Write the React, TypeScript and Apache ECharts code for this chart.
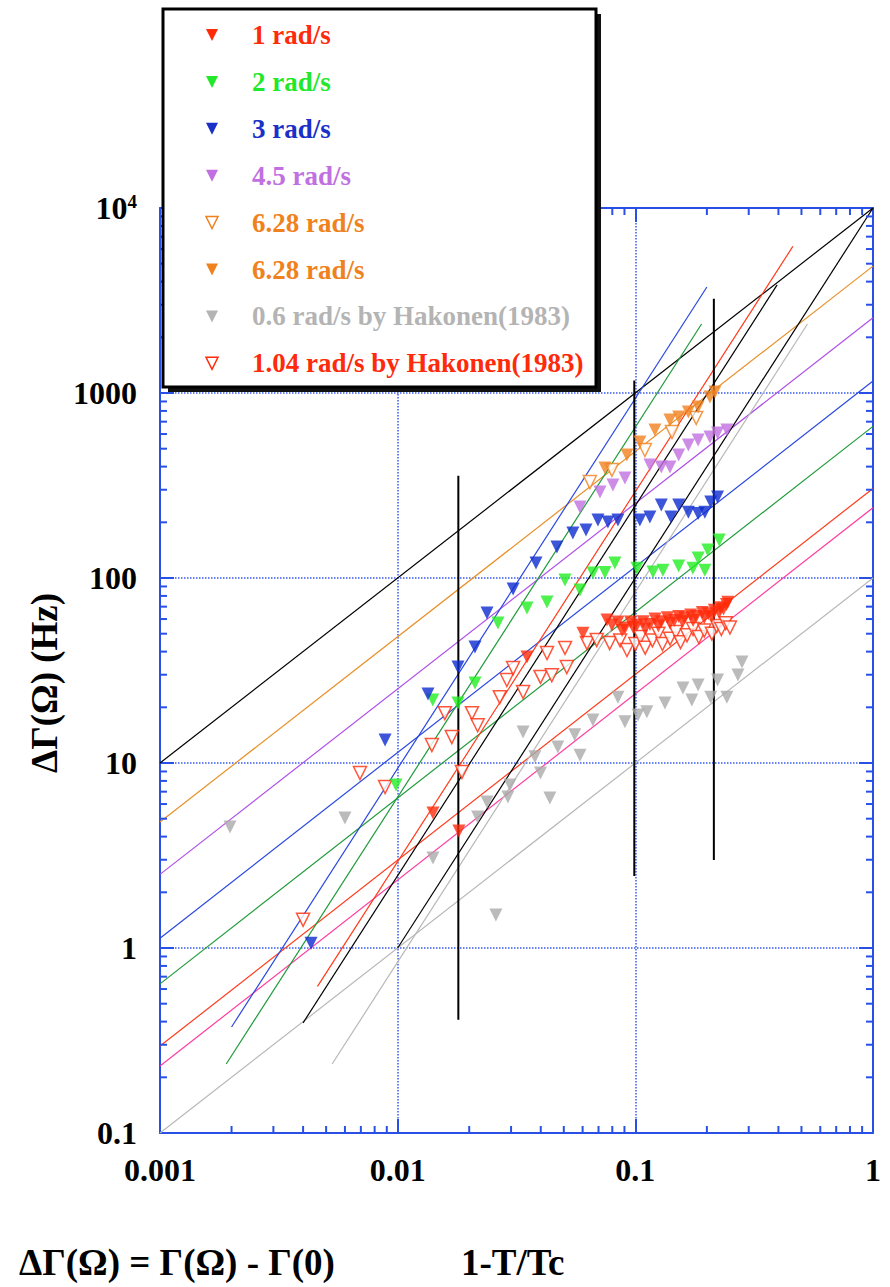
import React, { useEffect, useRef } from "react";
import * as echarts from "echarts";

const FONT = "'Liberation Serif', 'Times New Roman', serif";
const AXIS = "#2850e6";
const GRIDC = "#3a5cf0";

const X_MIN = 0.001;
const X_MAX = 1;
const Y_MIN = 0.1;
const Y_MAX = 10000;

const xTickValues = [0.001, 0.01, 0.1, 1];
const xTickLabels = ["0.001", "0.01", "0.1", "1"];
const yTickValues = [0.1, 1, 10, 100, 1000, 10000];
const yTickLabels = ["0.1", "1", "10", "100", "1000", "{b|10}{s|4}"];

const xMinorTicks = [
  0.002, 0.003, 0.004, 0.005, 0.006, 0.007, 0.008, 0.009,
  0.02, 0.03, 0.04, 0.05, 0.06, 0.07, 0.08, 0.09,
  0.2, 0.3, 0.4, 0.5, 0.6, 0.7, 0.8, 0.9,
];
const yMinorTicks = [
  0.2, 0.3, 0.4, 0.5, 0.6, 0.7, 0.8, 0.9,
  2, 3, 4, 5, 6, 7, 8, 9,
  20, 30, 40, 50, 60, 70, 80, 90,
  200, 300, 400, 500, 600, 700, 800, 900,
  2000, 3000, 4000, 5000, 6000, 7000, 8000, 9000,
];

// ---- data points (1-T/Tc, ΔΓ in Hz) ----
const red1 = [
  [0.01408, 5.37], [0.0181, 4.29], [0.035, 37.4], [0.0602, 50.3], [0.076, 59.3],
  [0.0797, 55.7], [0.0845, 57.8], [0.088, 52], [0.0904, 53.7], [0.0954, 57.8],
  [0.098, 54], [0.1016, 55.7], [0.1079, 58], [0.11, 53], [0.1152, 56],
  [0.1209, 60], [0.125, 55], [0.1286, 58], [0.1364, 61], [0.14, 57],
  [0.1459, 59], [0.1522, 62], [0.158, 58], [0.1613, 61], [0.171, 63],
  [0.175, 59], [0.1803, 62], [0.1913, 65], [0.195, 61], [0.2028, 64],
  [0.21, 62], [0.2151, 67], [0.225, 65], [0.2281, 69], [0.235, 68],
  [0.2418, 72], [0.245, 74],
];
const green2 = [
  [0.00984, 7.6], [0.01405, 21.9], [0.01794, 21.1], [0.02115, 27.1], [0.02642, 57.1],
  [0.035, 68.9], [0.0425, 74.2], [0.0506, 97.5], [0.0585, 86.1], [0.0663, 106.4],
  [0.0745, 107], [0.082, 120.5], [0.1016, 113], [0.1187, 107.7], [0.1307, 110],
  [0.1522, 116], [0.1746, 113], [0.1837, 128.3], [0.1962, 110], [0.2018, 141.7],
  [0.2253, 160.4],
];
const blue3 = [
  [0.00432, 1.06], [0.00885, 13.3], [0.01342, 23.6], [0.01794, 33], [0.02115, 42.4],
  [0.02376, 64.7], [0.0306, 87.2], [0.0382, 120.5], [0.0468, 147], [0.0546, 175],
  [0.062, 182], [0.0696, 206], [0.0767, 201], [0.0845, 206], [0.1045, 206],
  [0.1151, 213.6], [0.1286, 248], [0.1412, 213.6], [0.1522, 248], [0.1672, 227],
  [0.1837, 223], [0.1962, 227], [0.2077, 257.6], [0.2218, 274],
];
const purple45 = [
  [0.0585, 242], [0.071, 292], [0.0805, 318], [0.0904, 347], [0.1152, 408],
  [0.1286, 398], [0.1398, 398], [0.1522, 462], [0.1672, 523], [0.1837, 557],
  [0.206, 578], [0.2218, 608], [0.2428, 631],
];
const orangeOpen = [
  [0.0644, 330], [0.0797, 384], [0.1097, 492], [0.1426, 615], [0.1803, 733],
];
const orangeFilled = [
  [0.0745, 393], [0.0922, 462], [0.1045, 543], [0.1209, 631], [0.1398, 714],
  [0.1522, 742], [0.1672, 789], [0.1837, 840], [0.206, 951], [0.2163, 1012],
];
const grayHakonen = [
  [0.00197, 4.51], [0.006, 5.04], [0.01408, 3.07], [0.0217, 5.11], [0.02376, 6.15],
  [0.0259, 1.51], [0.0291, 6.55], [0.0297, 7.6], [0.0337, 14.7], [0.0378, 10.8],
  [0.0399, 8.83], [0.0437, 6.47], [0.0472, 12.2], [0.0556, 14.2], [0.0585, 11.0],
  [0.0663, 17.1], [0.0845, 22.7], [0.0904, 16.7], [0.1026, 18.2], [0.1118, 18.9],
  [0.1332, 21.1], [0.1586, 25.4], [0.1728, 21.9], [0.1837, 26.4], [0.2077, 22.7],
  [0.2218, 28.1], [0.2428, 22.7], [0.2703, 29.9], [0.281, 35.2],
];
const redHakonen = [
  [0.004, 1.42], [0.00694, 8.83], [0.00885, 7.42], [0.01393, 12.5], [0.0158, 18.6],
  [0.0169, 13.8], [0.01864, 8.94], [0.02054, 18.6], [0.0217, 16.0], [0.0269, 22.7],
  [0.0288, 28.1], [0.0306, 32.6], [0.0337, 24.2], [0.0399, 29.2], [0.0425, 39.3],
  [0.0445, 29.8], [0.0506, 41.9], [0.0515, 33.0], [0.0626, 44.5], [0.0688, 46.2],
  [0.078, 44.5], [0.0863, 46], [0.0922, 40.8],
  [0.1, 44], [0.105, 48], [0.11, 42], [0.118, 46], [0.125, 50], [0.13, 44],
  [0.14, 47], [0.148, 51], [0.155, 45], [0.165, 49], [0.175, 53], [0.185, 48],
  [0.195, 52], [0.21, 50], [0.22, 55], [0.23, 53], [0.24, 57], [0.25, 54],
];

// ---- fit lines (end points) ----
const fitBlackA = [[0.001, 10], [1, 10000]];
const fitOrange = [[0.001, 4.8], [1, 4850]];
const fitPurple = [[0.001, 2.5], [1, 2550]];
const fitBlueA = [[0.001, 1.13], [1, 1160]];
const fitGreenA = [[0.001, 0.64], [1, 660]];
const fitRedA = [[0.001, 0.295], [1, 305]];
const fitPink = [[0.001, 0.23], [1, 240]];
const fitGrayA = [[0.001, 0.1], [1, 100]];
const fitBlueB = [[0.002, 0.374], [0.2, 3740]];
const fitGreenB = [[0.0019, 0.236], [0.19, 2360]];
const fitRedB = [[0.0046, 0.62], [0.46, 6200]];
const fitBlackB = [[0.004, 0.394], [0.395, 3840]];
const fitBlackC = [[0.01, 1], [1, 10000]];
const fitGrayB = [[0.0053, 0.236], [0.53, 2360]];

// ---- vertical markers ----
const vLine1 = [[0.018, 0.41], [0.018, 357]];
const vLine2 = [[0.099, 2.45], [0.099, 1170]];
const vLine3 = [[0.214, 2.99], [0.214, 3230]];

const legendItems = [
  { text: "1 rad/s", color: "#ff2a0a", hollow: false },
  { text: "2 rad/s", color: "#22e82a", hollow: false },
  { text: "3 rad/s", color: "#1a30c8", hollow: false },
  { text: "4.5 rad/s", color: "#c070e0", hollow: false },
  { text: "6.28 rad/s", color: "#f0821e", hollow: true },
  { text: "6.28 rad/s", color: "#f0821e", hollow: false },
  { text: "0.6 rad/s by Hakonen(1983)", color: "#b4b4b4", hollow: false },
  { text: "1.04 rad/s by Hakonen(1983)", color: "#ff2a0a", hollow: true },
];

function labelFor(v: number, vals: number[], labels: string[]) {
  for (let i = 0; i < vals.length; i++) {
    if (Math.abs(Math.log10(v) - Math.log10(vals[i])) < 0.01) return labels[i];
  }
  return "";
}

export default function App() {
  const ref = useRef<HTMLDivElement>(null);

  useEffect(() => {
    if (!ref.current) return;
    const chart = echarts.init(ref.current, null, { renderer: "svg" });

    const scatter = (name: string, data: number[][], color: string, hollow: boolean) => ({
      name,
      type: "scatter",
      data,
      symbol: "triangle",
      symbolRotate: 180,
      symbolSize: 13,
      z: 5,
      itemStyle: hollow
        ? { color: "#ffffff", borderColor: color, borderWidth: 1.5 }
        : { color },
      silent: true,
    });
    const fit = (data: number[][], color: string, width = 1.2) => ({
      type: "line",
      data,
      symbol: "none",
      z: 3,
      lineStyle: { color, width },
      silent: true,
    });

    const tickStyle = { stroke: AXIS, lineWidth: 2, fill: null };
    const MINOR = 7;

    const majorTick = { show: true, inside: true, length: 14, lineStyle: { color: AXIS, width: 2 } };

    const option: any = {
      animation: false,
      backgroundColor: "#ffffff",
      grid: { left: 160, right: 17, top: 208, bottom: 154, containLabel: false },
      xAxis: [
        {
          type: "log",
          logBase: 10,
          min: X_MIN,
          max: X_MAX,
          position: "bottom",
          axisLine: { show: true, lineStyle: { color: AXIS, width: 2 } },
          axisTick: majorTick,
          axisLabel: {
            margin: 21,
            fontSize: 32,
            fontWeight: "bold",
            fontFamily: FONT,
            color: "#000",
            formatter: (v: number) => labelFor(v, xTickValues, xTickLabels),
          },
          splitLine: { show: true, lineStyle: { color: GRIDC, type: "dotted", width: 1.5 } },
        },
        {
          type: "log",
          logBase: 10,
          min: X_MIN,
          max: X_MAX,
          position: "top",
          axisLine: { show: true, lineStyle: { color: AXIS, width: 2 } },
          axisTick: majorTick,
          axisLabel: { show: false },
          splitLine: { show: false },
        },
      ],
      yAxis: [
        {
          type: "log",
          logBase: 10,
          min: Y_MIN,
          max: Y_MAX,
          position: "left",
          axisLine: { show: true, lineStyle: { color: AXIS, width: 2 } },
          axisTick: majorTick,
          axisLabel: {
            margin: 23,
            fontSize: 32,
            fontWeight: "bold",
            fontFamily: FONT,
            color: "#000",
            formatter: (v: number) => labelFor(v, yTickValues, yTickLabels),
            rich: {
              b: { fontSize: 32, fontWeight: "bold", fontFamily: FONT, color: "#000" },
              s: { fontSize: 19, fontWeight: "bold", fontFamily: FONT, color: "#000", verticalAlign: "top", padding: [0, 0, 14, 0] },
            },
          },
          splitLine: { show: true, lineStyle: { color: GRIDC, type: "dotted", width: 1.5 } },
        },
        {
          type: "log",
          logBase: 10,
          min: Y_MIN,
          max: Y_MAX,
          position: "right",
          axisLine: { show: true, lineStyle: { color: AXIS, width: 2 } },
          axisTick: majorTick,
          axisLabel: { show: false },
          splitLine: { show: false },
        },
      ],
      series: [
        {
          type: "custom",
          silent: true,
          clip: false,
          z: 10,
          xAxisIndex: 0,
          yAxisIndex: 0,
          encode: { x: 0, y: 1 },
          data: xMinorTicks.map((v) => [v, 1]),
          renderItem: (_p: any, api: any) => {
            const x = api.value(0);
            const b = api.coord([x, Y_MIN]);
            const t = api.coord([x, Y_MAX]);
            return {
              type: "group",
              children: [
                { type: "line", shape: { x1: b[0], y1: b[1], x2: b[0], y2: b[1] - MINOR }, style: tickStyle },
                { type: "line", shape: { x1: t[0], y1: t[1], x2: t[0], y2: t[1] + MINOR }, style: tickStyle },
              ],
            };
          },
        },
        {
          type: "custom",
          silent: true,
          clip: false,
          z: 10,
          xAxisIndex: 0,
          yAxisIndex: 0,
          encode: { x: 0, y: 1 },
          data: yMinorTicks.map((v) => [0.01, v]),
          renderItem: (_p: any, api: any) => {
            const y = api.value(1);
            const l = api.coord([X_MIN, y]);
            const r = api.coord([X_MAX, y]);
            return {
              type: "group",
              children: [
                { type: "line", shape: { x1: l[0], y1: l[1], x2: l[0] + MINOR, y2: l[1] }, style: tickStyle },
                { type: "line", shape: { x1: r[0], y1: r[1], x2: r[0] - MINOR, y2: r[1] }, style: tickStyle },
              ],
            };
          },
        },
        fit(fitBlackA, "#000000"),
        fit(fitOrange, "#e8902a"),
        fit(fitPurple, "#b050e8"),
        fit(fitBlueA, "#2a48e0"),
        fit(fitGreenA, "#1f9a3a"),
        fit(fitRedA, "#ff3a1a"),
        fit(fitPink, "#ff3ca0"),
        fit(fitGrayA, "#b8b8b8"),
        fit(fitBlueB, "#2a48e0"),
        fit(fitGreenB, "#1f9a3a"),
        fit(fitRedB, "#ff3a1a"),
        fit(fitBlackB, "#000000"),
        fit(fitBlackC, "#000000"),
        fit(fitGrayB, "#b8b8b8"),
        fit(vLine1, "#000000", 2),
        fit(vLine2, "#000000", 2),
        fit(vLine3, "#000000", 2),
        scatter("0.6 rad/s by Hakonen(1983)", grayHakonen, "#aaaaaa", false),
        scatter("1.04 rad/s by Hakonen(1983)", redHakonen, "#ff2a0a", true),
        scatter("1 rad/s", red1, "#ff2a0a", false),
        scatter("2 rad/s", green2, "#22ee22", false),
        scatter("3 rad/s", blue3, "#0c2cd0", false),
        scatter("4.5 rad/s", purple45, "#c070e0", false),
        scatter("6.28 rad/s (open)", orangeOpen, "#f0821e", true),
        scatter("6.28 rad/s", orangeFilled, "#f0821e", false),
      ],
      graphic: [
        {
          type: "group",
          z: 100,
          children: [
            { type: "rect", shape: { x: 168, y: 14, width: 433, height: 378 }, style: { fill: "#111111" }, z: 100 },
            { type: "rect", shape: { x: 163, y: 9, width: 433, height: 378 }, style: { fill: "#ffffff", stroke: "#000000", lineWidth: 3 }, z: 101 },
            ...legendItems.flatMap((it, i) => {
              const cy = 35 + i * 46.9;
              return [
                {
                  type: "polygon",
                  z: 102,
                  shape: { points: [[206, cy - 6], [218, cy - 6], [212, cy + 6]] },
                  style: it.hollow
                    ? { fill: "#ffffff", stroke: it.color, lineWidth: 1.5 }
                    : { fill: it.color },
                },
                {
                  type: "text",
                  z: 102,
                  x: 252,
                  y: cy,
                  style: {
                    text: it.text,
                    fill: it.color,
                    font: `bold 27px ${FONT}`,
                    textAlign: "left",
                    textVerticalAlign: "middle",
                  },
                },
              ];
            }),
          ],
        },
        {
          type: "text",
          x: 44,
          y: 683,
          rotation: Math.PI / 2,
          style: {
            text: "ΔΓ(Ω) (Hz)",
            fill: "#000",
            font: `bold 37px ${FONT}`,
            textAlign: "center",
            textVerticalAlign: "middle",
          },
        },
        {
          type: "text",
          x: 19,
          y: 1262,
          style: {
            text: "ΔΓ(Ω) = Γ(Ω) - Γ(0)",
            fill: "#000",
            font: `bold 37px ${FONT}`,
            textAlign: "left",
            textVerticalAlign: "middle",
          },
        },
        {
          type: "text",
          x: 461,
          y: 1262,
          style: {
            text: "1-T/Tc",
            fill: "#000",
            font: `bold 37px ${FONT}`,
            textAlign: "left",
            textVerticalAlign: "middle",
          },
        },
      ],
    };

    chart.setOption(option);
    return () => chart.dispose();
  }, []);

  return (
    <div
      ref={ref}
      style={{ position: "absolute", left: 0, top: 0, width: 890, height: 1287 }}
    />
  );
}
